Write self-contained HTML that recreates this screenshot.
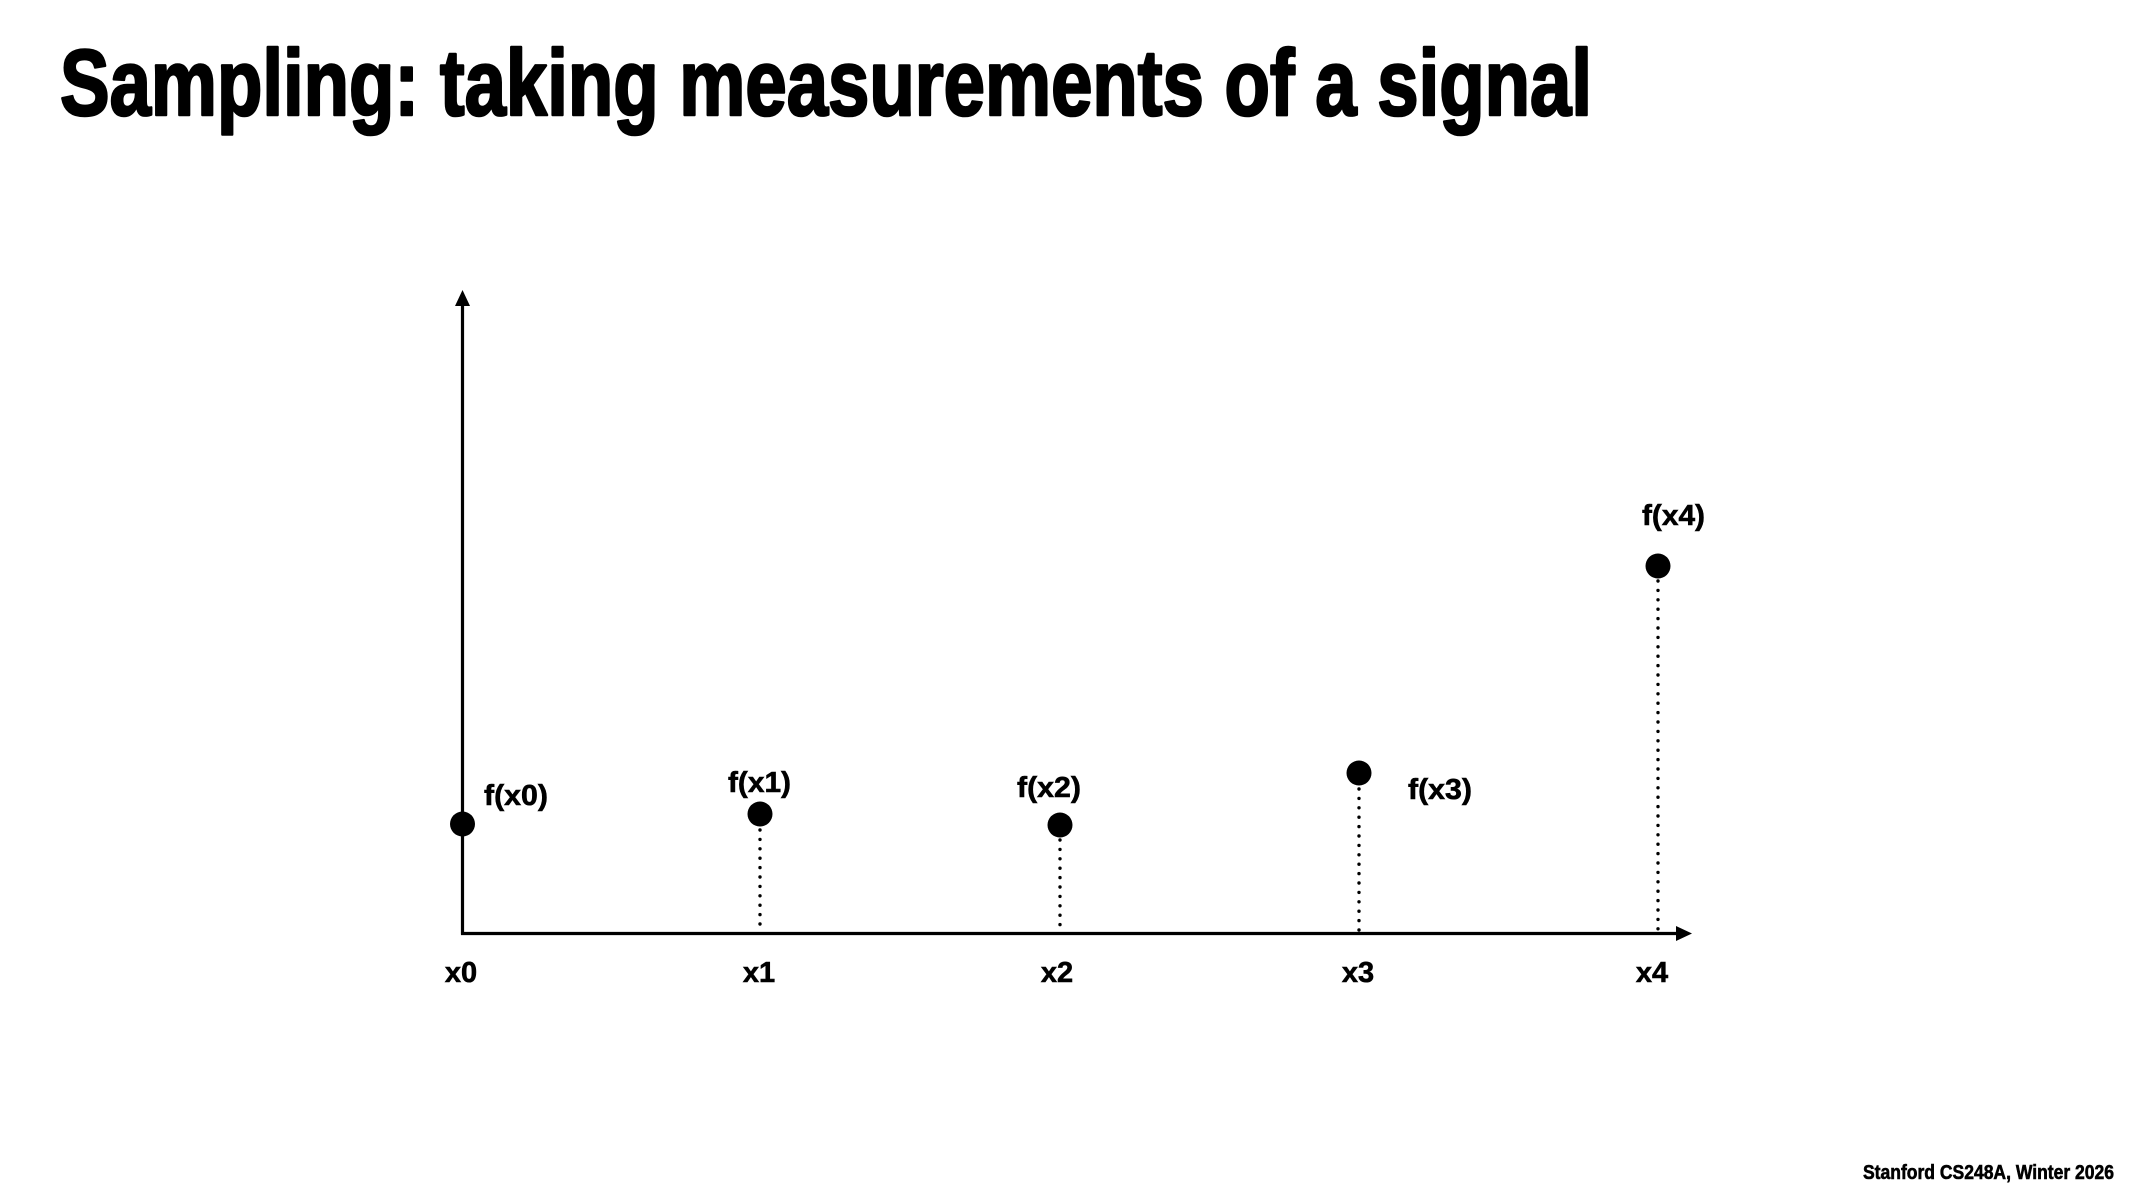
<!DOCTYPE html>
<html>
<head>
<meta charset="utf-8">
<style>
  html, body { margin: 0; padding: 0; background: #ffffff; }
  body { width: 2133px; height: 1200px; overflow: hidden; }
  svg { display: block; }
  text { font-family: "Liberation Sans", Arial, sans-serif; font-weight: bold; fill: #000; }
</style>
</head>
<body>
<svg width="2133" height="1200" viewBox="0 0 2133 1200" xmlns="http://www.w3.org/2000/svg">
  <rect width="2133" height="1200" fill="#ffffff"/>

  <!-- Title -->
  <text x="60" y="115" font-size="94" textLength="1532" lengthAdjust="spacingAndGlyphs" stroke="#000" stroke-width="2.6" stroke-linejoin="round">Sampling: taking measurements of a signal</text>

  <!-- Y axis -->
  <line x1="462.5" y1="934.5" x2="462.5" y2="302" stroke="#000" stroke-width="3.2"/>
  <polygon points="462.5,290 455,306 470,306" fill="#000"/>

  <!-- X axis -->
  <line x1="461" y1="933.5" x2="1680" y2="933.5" stroke="#000" stroke-width="3.2"/>
  <polygon points="1692,933.5 1676,926 1676,941" fill="#000"/>

  <!-- Dotted stems -->
  <g stroke="#000" stroke-width="3.4" stroke-linecap="round" stroke-dasharray="0 9.4" fill="none">
    <line x1="760" y1="830" x2="760" y2="930"/>
    <line x1="1060" y1="840" x2="1060" y2="930"/>
    <line x1="1359" y1="789" x2="1359" y2="930"/>
    <line x1="1658" y1="581" x2="1658" y2="930"/>
  </g>

  <!-- Sample dots -->
  <g fill="#000">
    <circle cx="462.5" cy="824" r="12.5"/>
    <circle cx="760" cy="814" r="12.5"/>
    <circle cx="1060" cy="825" r="12.5"/>
    <circle cx="1359" cy="773" r="12.5"/>
    <circle cx="1658" cy="566" r="12.5"/>
  </g>

  <!-- f labels -->
  <g font-size="29" stroke="#000" stroke-width="0.6">
    <text x="484" y="805" textLength="64" lengthAdjust="spacingAndGlyphs">f(x0)</text>
    <text x="728" y="792" textLength="63" lengthAdjust="spacingAndGlyphs">f(x1)</text>
    <text x="1017" y="797" textLength="64" lengthAdjust="spacingAndGlyphs">f(x2)</text>
    <text x="1408" y="799" textLength="64" lengthAdjust="spacingAndGlyphs">f(x3)</text>
    <text x="1642" y="525" textLength="63" lengthAdjust="spacingAndGlyphs">f(x4)</text>
  </g>

  <!-- x labels -->
  <g font-size="29" text-anchor="middle" stroke="#000" stroke-width="0.6">
    <text x="461" y="982">x0</text>
    <text x="759" y="982">x1</text>
    <text x="1057" y="982">x2</text>
    <text x="1358" y="982">x3</text>
    <text x="1652" y="982">x4</text>
  </g>

  <!-- Footer -->
  <text x="1863" y="1179" font-size="20" textLength="251" lengthAdjust="spacingAndGlyphs" stroke="#000" stroke-width="0.6">Stanford CS248A, Winter 2026</text>
</svg>
</body>
</html>
